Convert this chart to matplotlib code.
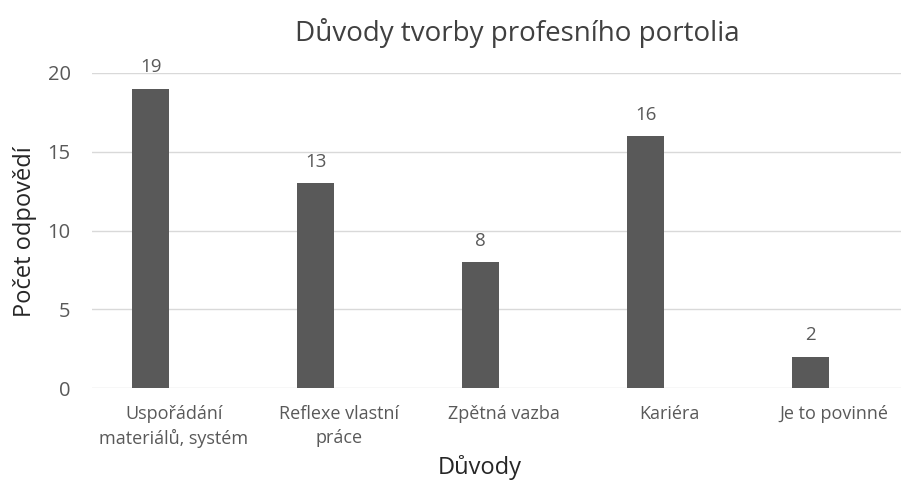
import matplotlib
matplotlib.use("Agg")
import matplotlib.pyplot as plt
import numpy as np

# data
kategorie = ["Uspořádání\nmateriálů, systém", "Reflexe vlastní\npráce",
             "Zpětná vazba", "Kariéra", "Je to povinné"]
pocty = [19, 13, 8, 16, 2]
y_ticks = [0, 5, 10, 15, 20]

plt.rcParams["font.family"] = ["Open Sans", "DejaVu Sans"]

fig = plt.figure(figsize=(9.01, 4.84), dpi=100)
# plot area runs slightly past the right edge like in the source image
ax = fig.add_axes([91.5 / 901, 1 - 388 / 484, 825 / 901, 315 / 484])

x = np.arange(len(kategorie))
bars = ax.bar(x - 0.142, pocty, width=0.224, color="#595959", zorder=3)

for b, v in zip(bars, pocty):
    ax.annotate(str(v), (b.get_x() + b.get_width() / 2, v),
                xytext=(0, 9), textcoords="offset points",
                ha="center", va="bottom", fontsize=13.5, color="#595959")

ax.set_xlim(-0.5, len(kategorie) - 0.5)
ax.set_ylim(0, 20)
ax.set_yticks(y_ticks)
ax.set_xticks(x)
ax.set_xticklabels(kategorie, fontsize=13, color="#595959", linespacing=1.45)
ax.tick_params(axis="y", labelsize=14.5, labelcolor="#595959", length=0, pad=15)
ax.tick_params(axis="x", length=0, pad=12)

ax.grid(axis="y", color="#d9d9d9", linewidth=1, zorder=0)
for s in ax.spines.values():
    s.set_visible(False)

fig.text(517 / 901, 1 - 33 / 484, "Důvody tvorby profesního portolia",
         ha="center", va="center", fontsize=20, color="#404040")
fig.text(480 / 901, 1 - 467 / 484, "Důvody", ha="center", va="center",
         fontsize=17, color="#262626")
fig.text(25 / 901, 1 - 232 / 484, "Počet odpovědí", ha="center", va="center",
         rotation=90, fontsize=17, color="#262626")

fig.savefig("out.png", dpi=100)
